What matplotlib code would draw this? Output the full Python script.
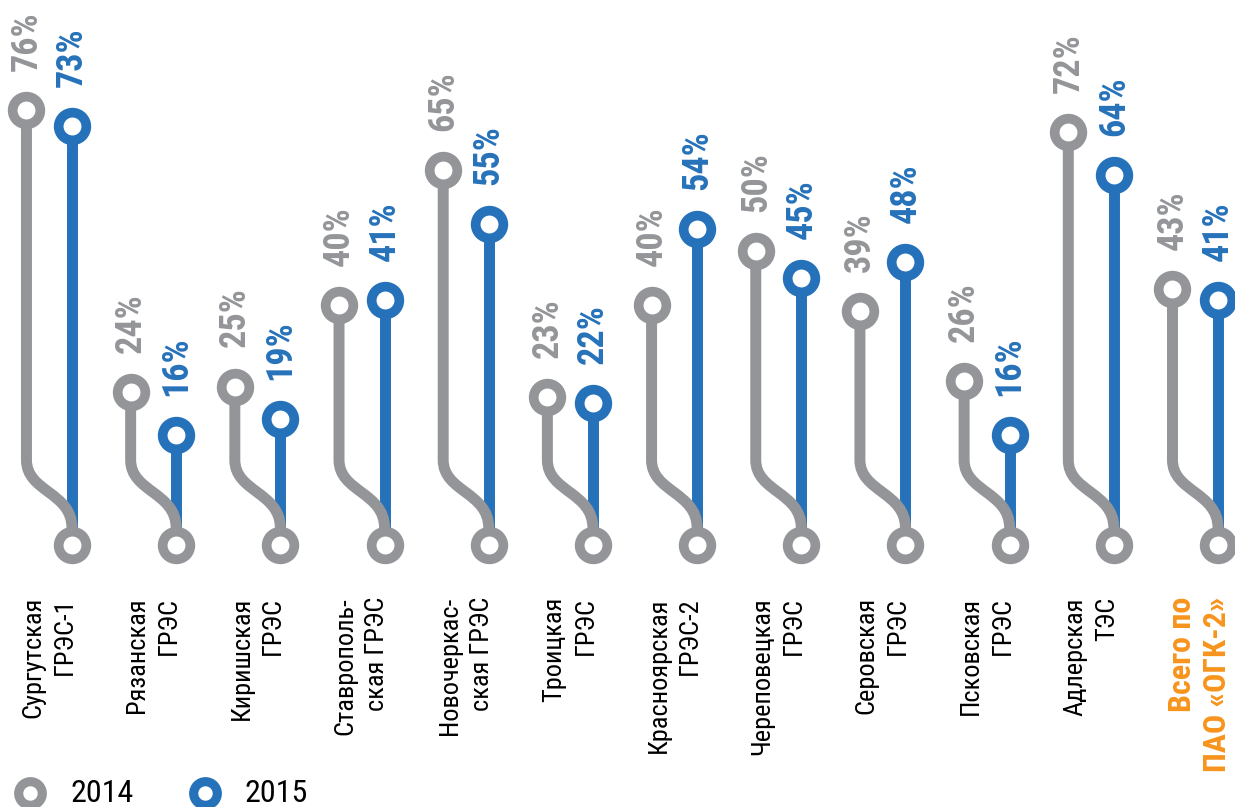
import matplotlib
matplotlib.use("Agg")
import matplotlib.pyplot as plt
from matplotlib.path import Path
from matplotlib.patches import PathPatch

# ---- data ----
categories = [
    "Сургутская\nГРЭС-1", "Рязанская\nГРЭС", "Киришская\nГРЭС",
    "Ставрополь-\nская ГРЭС", "Новочеркас-\nская ГРЭС", "Троицкая\nГРЭС",
    "Красноярская\nГРЭС-2", "Череповецкая\nГРЭС", "Серовская\nГРЭС",
    "Псковская\nГРЭС", "Адлерская\nТЭС", "Всего по\nПАО «ОГК-2»",
]
values_2014 = [76, 24, 25, 40, 65, 23, 40, 50, 39, 26, 72, 43]
values_2015 = [73, 16, 19, 41, 55, 22, 54, 45, 48, 16, 64, 41]
series_names = ["2014", "2015"]

GRAY = "#939598"
BLUE = "#2672BA"
ORANGE = "#F7941D"
FONT = "Roboto Condensed"

fig = plt.figure(figsize=(12.35, 8.07), dpi=100)
ax = fig.add_axes([0, 0, 1, 1])
ax.set_xlim(-0.691, 11.163)
ax.set_ylim(-52.58, 96.31)
ax.axis("off")

off = 0.437          # gray stem offset to the left
y_base = -4.24       # bottom joint circle level
y_c0, y_c1, y_c2 = -1.11, 5.54, 11.44
LW = 7.9
MS, MEW = 19.9, 7.0

for i, (v14, v15) in enumerate(zip(values_2014, values_2015)):
    gx = i - off
    # blue stem
    ax.plot([i, i], [y_base, v15], color=BLUE, lw=LW, solid_capstyle="butt", zorder=2)
    # gray S-shaped stem
    path = Path([(i, y_base), (i, y_c0), (i, y_c1), (gx, y_c1), (gx, y_c2), (gx, v14)],
                [Path.MOVETO, Path.LINETO, Path.CURVE4, Path.CURVE4, Path.CURVE4, Path.LINETO])
    ax.add_patch(PathPatch(path, fill=False, edgecolor=GRAY, lw=LW, capstyle="butt",
                           joinstyle="round", zorder=3))
    # markers
    ax.plot([i], [y_base], "o", ms=MS, mew=MEW, mfc="white", mec=GRAY, zorder=4)
    ax.plot([gx], [v14], "o", ms=MS, mew=MEW, mfc="white", mec=GRAY, zorder=4)
    ax.plot([i], [v15], "o", ms=MS, mew=MEW, mfc="white", mec=BLUE, zorder=4)
    # value labels
    ax.text(gx, v14 + 7.2, f"{v14}%", rotation=90, ha="center", va="bottom",
            color=GRAY, fontsize=26, fontweight="bold", family=FONT)
    ax.text(i, v15 + 7.2, f"{v15}%", rotation=90, ha="center", va="bottom",
            color=BLUE, fontsize=26, fontweight="bold", family=FONT)
    # category label
    if i == len(categories) - 1:
        ax.text(i - 0.18, -13.84, categories[i], rotation=90, ha="center", va="top",
                multialignment="right", linespacing=1.2, family=FONT,
                fontsize=23, color=ORANGE, fontweight="bold")
    else:
        ax.text(i - 0.22, -13.84, categories[i], rotation=90, ha="center", va="top",
                multialignment="right", linespacing=1.4, family=FONT,
                fontsize=19, color="black")

# legend
ax.plot([-0.403], [-50.0], "o", ms=17.0, mew=6.6, mfc="white", mec=GRAY, clip_on=False)
ax.text(-0.019, -50.0, series_names[0], ha="left", va="center", fontsize=23, family=FONT)
ax.plot([1.277], [-50.0], "o", ms=17.0, mew=6.6, mfc="white", mec=BLUE, clip_on=False)
ax.text(1.66, -50.0, series_names[1], ha="left", va="center", fontsize=23, family=FONT)

fig.savefig("out.png", dpi=100)
